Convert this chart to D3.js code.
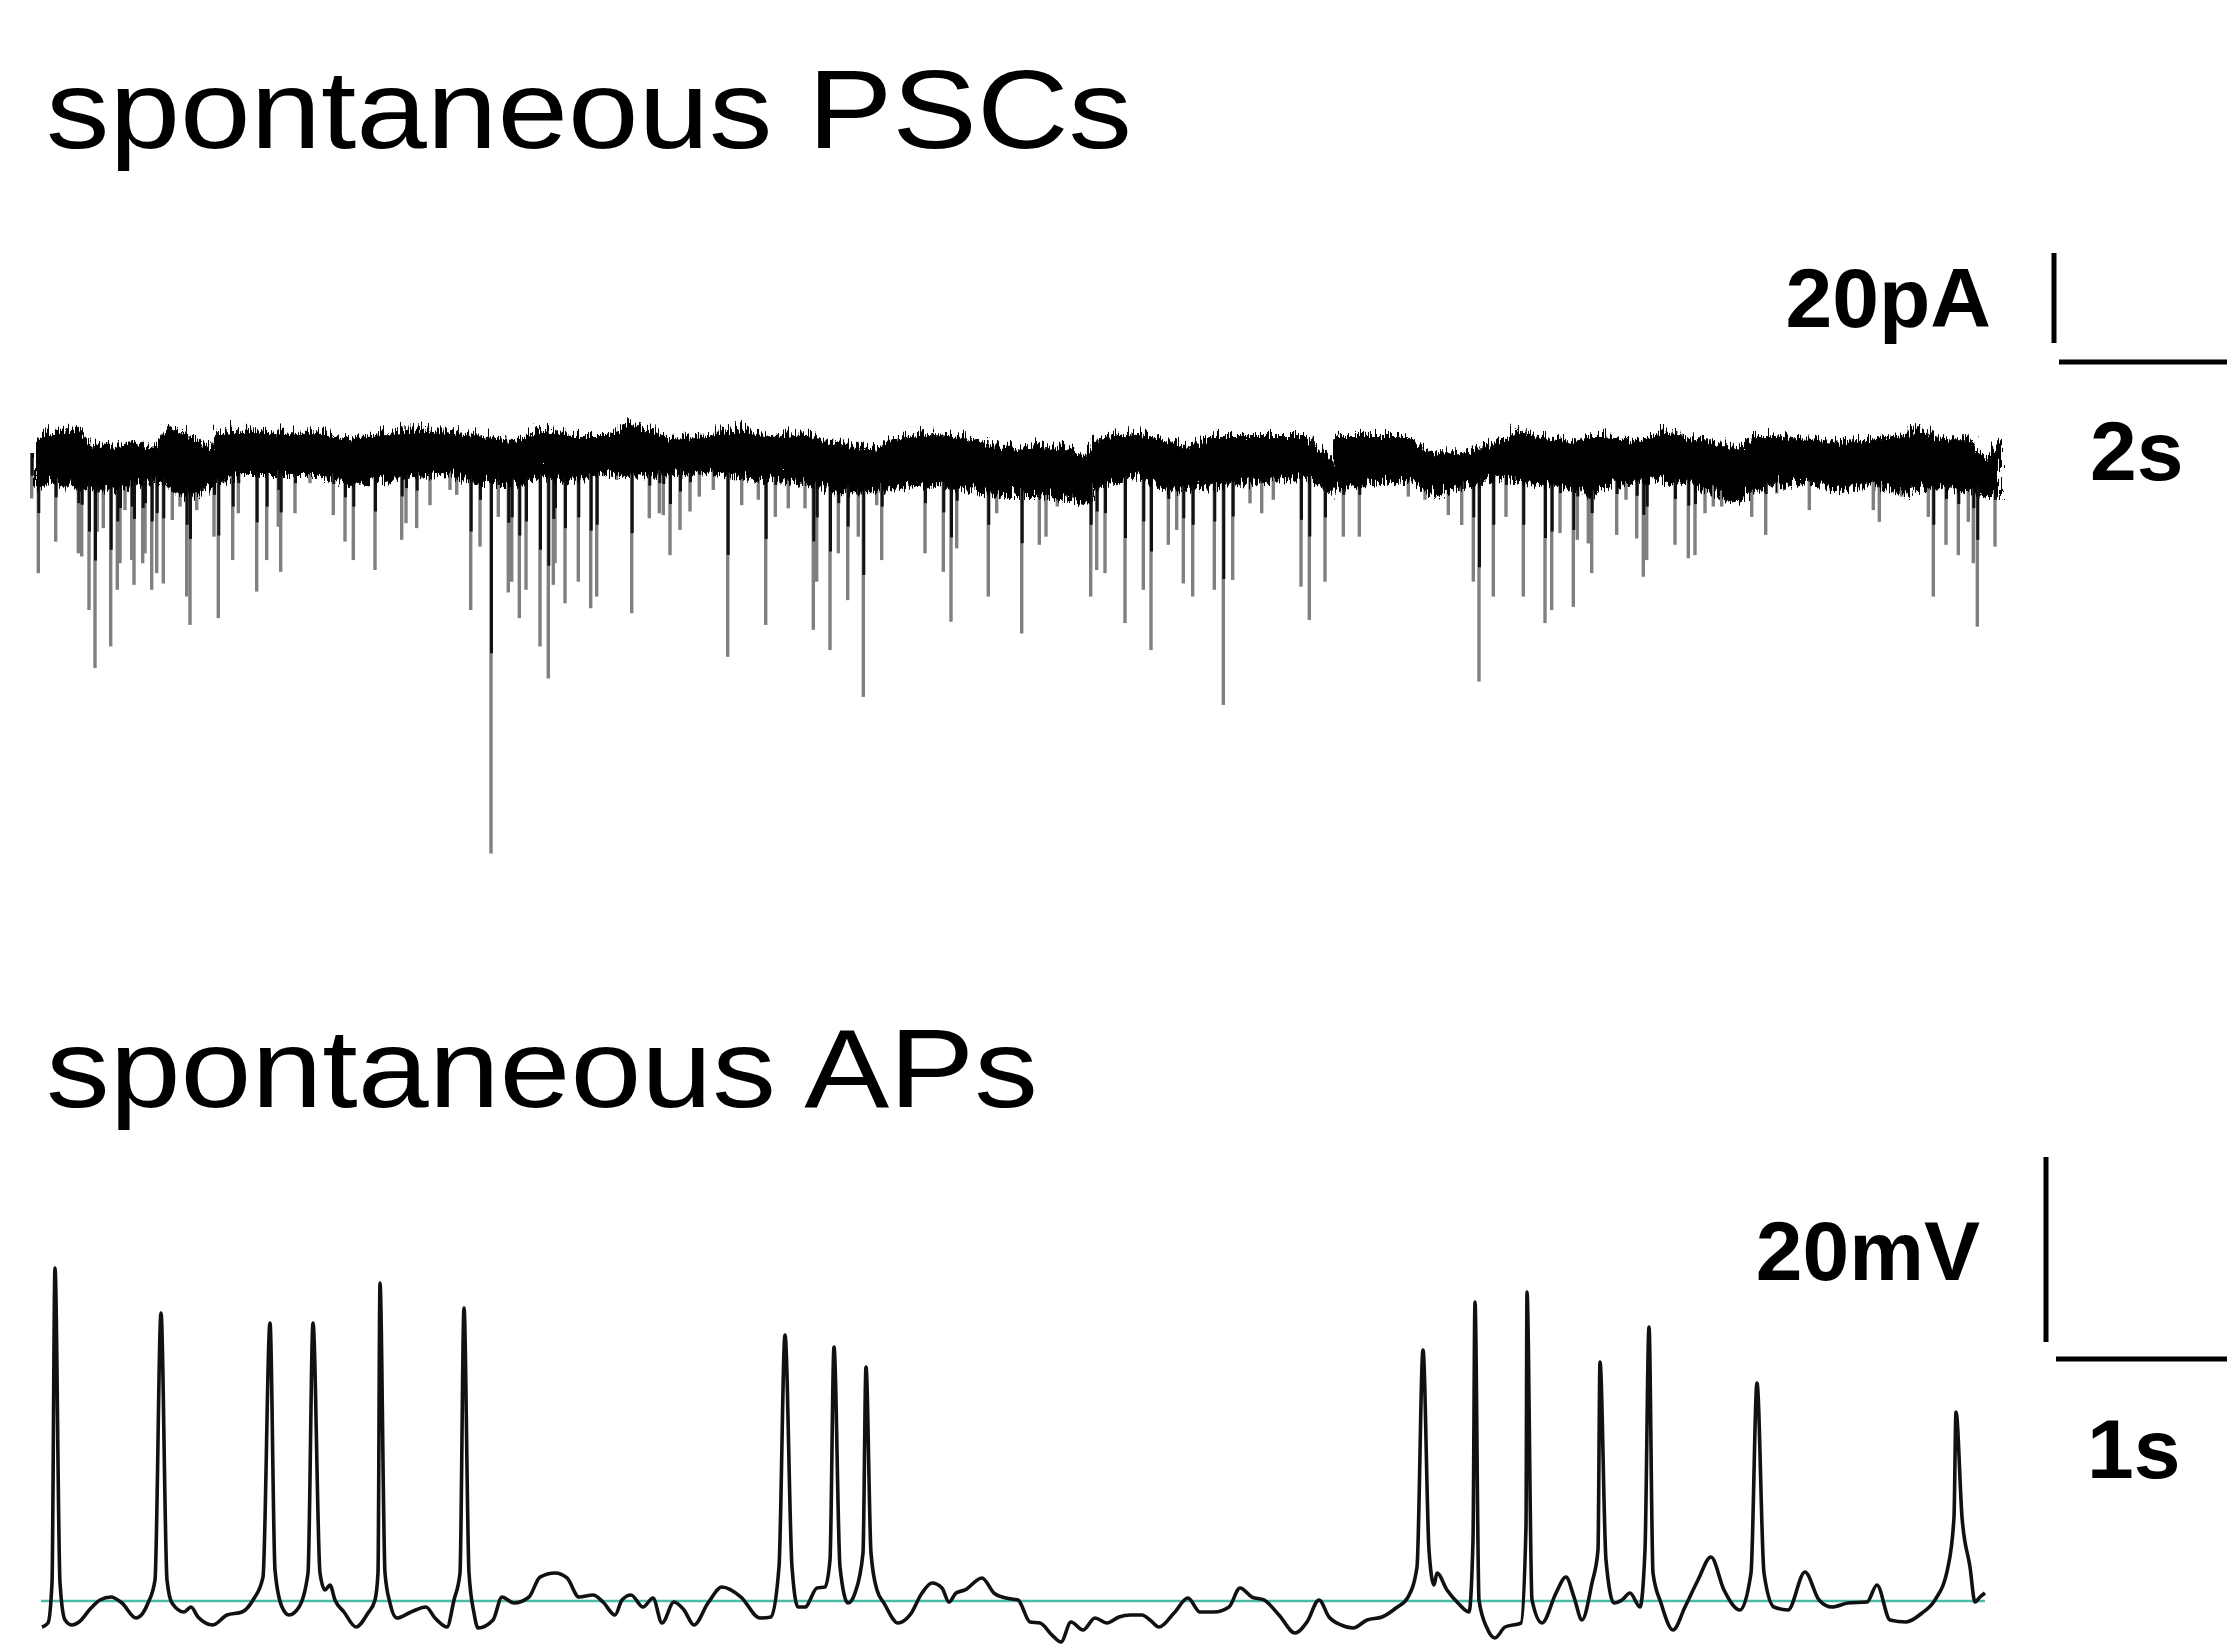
<!DOCTYPE html>
<html>
<head>
<meta charset="utf-8">
<script src="https://cdn.jsdelivr.net/npm/d3@7"></script>
<style>
  body { margin: 0; background: #fff; }
  text { font-family: "Liberation Sans", Arial, sans-serif; }
</style>
</head>
<body>
<svg id="fig"></svg>
<script>
var width = 2227,
    height = 1644;

// ---- spontaneous PSCs (time in s, current in pA) ----
var bandTime = [0, 0.13, 0.40, 0.53, 0.73, 1.00, 1.20, 1.30, 1.47, 1.73, 1.80, 2.13, 2.47, 2.80, 3.13, 3.47, 3.80, 4.13, 4.47, 4.80,
  5.03, 5.37, 5.70, 5.93, 6.37, 6.70, 7.03, 7.37, 7.70, 7.97, 8.37, 8.70, 9.03, 9.37, 9.70, 10.03, 10.37, 10.50, 10.60, 10.70,
  11.03, 11.37, 11.53, 11.77, 12.03, 12.37, 12.70, 12.90, 12.95, 13.00, 13.37, 13.70, 13.97, 14.30, 14.70, 14.83, 15.03, 15.37, 15.53, 15.70,
  16.03, 16.30, 16.53, 16.70, 17.03, 17.20, 17.37, 17.70, 18.03, 18.37, 18.70, 18.80, 19.03, 19.37, 19.50, 19.65];
var bandUpper = [4.0, 5.8, 6.9, 3.3, 2.9, 3.6, 2.2, 7.3, 6.2, 2.2, 5.8, 6.7, 5.8, 6.2, 4.4, 5.8, 6.7, 6.2, 5.1, 3.6,
  6.7, 5.1, 5.1, 8.0, 4.4, 5.1, 6.7, 5.1, 5.8, 3.6, 2.2, 5.1, 5.8, 4.4, 2.2, 2.9, 2.2, 0.0, 4.4, 5.1,
  5.8, 3.6, 2.2, 5.1, 5.1, 5.1, 5.1, 1.3, -0.9, 5.1, 5.1, 5.1, 1.3, 1.3, 4.4, 6.7, 5.1, 3.6, 5.1, 5.1,
  3.6, 6.7, 4.4, 4.4, 2.2, 5.1, 5.1, 4.4, 3.6, 4.4, 5.1, 7.3, 4.4, 4.4, 0.0, 3.6];
var bandLower = [-6.7, -5.3, -6.7, -7.1, -7.6, -6.4, -5.3, -6.0, -8.9, -7.1, -6.0, -3.8, -3.8, -3.8, -6.0, -5.3, -4.4, -3.8, -6.0, -6.0,
  -4.4, -5.3, -3.8, -4.2, -3.8, -3.1, -4.4, -5.3, -6.0, -7.6, -7.6, -6.7, -6.0, -7.6, -8.2, -8.2, -9.8, -10.4, -7.1, -6.0,
  -4.4, -7.6, -7.1, -6.7, -6.0, -5.3, -4.4, -6.4, -8.2, -7.1, -6.0, -5.3, -8.2, -6.7, -4.4, -5.6, -6.0, -6.7, -8.2, -6.7,
  -5.3, -5.3, -6.0, -7.6, -9.8, -7.1, -6.7, -5.3, -7.6, -6.0, -8.2, -7.1, -6.7, -7.6, -8.2, -8.2];

var pscTime = [0.017, 0.083, 0.257, 0.333, 0.483, 0.517, 0.59, 0.65, 0.673, 0.733, 0.807, 0.873, 0.90, 0.95, 1.017, 1.04, 1.127, 1.15, 1.217, 1.267,
  1.333, 1.423, 1.50, 1.567, 1.60, 1.667, 1.84, 1.883, 2.027, 2.083, 2.267, 2.367, 2.483, 2.507, 2.65, 2.80, 3.033, 3.15, 3.233, 3.45,
  3.717, 3.76, 3.867, 4.00, 4.20, 4.267, 4.407, 4.50, 4.61, 4.683, 4.783, 4.817, 4.893, 4.96, 5.10, 5.183, 5.233, 5.25, 5.35, 5.483,
  5.607, 5.667, 5.867, 6.017, 6.193, 6.293, 6.333, 6.40, 6.50, 6.60, 6.693, 6.833, 6.977, 7.117, 7.283, 7.357, 7.453, 7.583, 7.75, 7.833,
  7.867, 8.00, 8.083, 8.177, 8.283, 8.333, 8.467, 8.517, 8.95, 9.133, 9.21, 9.267, 9.583, 9.667, 9.917, 10.093, 10.16, 10.273, 10.607, 10.667,
  10.75, 10.95, 11.133, 11.21, 11.383, 11.467, 11.533, 11.627, 11.843, 11.933, 12.027, 12.20, 12.317, 12.433, 12.71, 12.793, 12.95, 13.133, 13.293, 13.783,
  13.95, 14.183, 14.317, 14.433, 14.49, 14.633, 14.76, 14.933, 15.15, 15.217, 15.30, 15.433, 15.473, 15.583, 15.617, 15.867, 15.96, 16.067, 16.133, 16.167,
  16.45, 16.583, 16.65, 16.75, 16.833, 16.917, 17.067, 17.217, 17.357, 17.467, 17.793, 18.433, 18.493, 18.717, 18.983, 19.033, 19.16, 19.283, 19.383, 19.433,
  19.473, 19.65];
var pscAmp = [-10.1, -26.7, -19.7, -6.0, -22.3, -23.0, -34.9, -47.8, -17.5, -16.7, -43.0, -30.4, -24.5, -12.7, -23.8, -29.3, -24.5, -22.3, -30.4, -26.7,
  -29.0, -14.9, -11.9, -31.9, -38.2, -12.7, -18.6, -36.7, -23.8, -13.4, -30.8, -23.8, -16.4, -26.4, -13.4, -6.7, -13.8, -19.7, -23.8, -26.0,
  -19.3, -15.6, -16.7, -11.6, -8.2, -9.3, -34.9, -20.8, -89.0, -14.2, -31.0, -28.6, -36.7, -30.4, -43.0, -50.1, -29.3, -24.5, -33.4, -28.6,
  -34.5, -31.9, -6.0, -35.6, -14.5, -13.4, -13.8, -22.7, -17.1, -13.0, -9.7, -8.2, -45.3, -11.6, -10.4, -38.2, -14.2, -12.3, -12.3, -39.3,
  -28.6, -43.8, -22.3, -32.7, -18.6, -54.2, -11.6, -23.8, -22.3, -26.4, -37.5, -21.2, -31.9, -13.4, -40.1, -20.4, -18.6, -11.9, -31.9, -26.0,
  -26.7, -37.8, -30.4, -43.8, -20.4, -17.1, -29.0, -31.9, -30.4, -56.0, -28.2, -11.2, -13.4, -10.4, -29.7, -37.1, -28.6, -18.6, -18.6, -9.7,
  -10.4, -13.8, -16.0, -28.6, -50.8, -31.9, -14.2, -31.9, -37.8, -34.9, -17.8, -34.2, -19.3, -20.1, -26.7, -18.2, -10.4, -19.0, -27.5, -23.8,
  -20.4, -23.4, -22.7, -13.4, -11.9, -11.9, -10.1, -14.2, -18.2, -9.0, -12.7, -12.7, -15.3, -9.7, -14.2, -31.9, -20.4, -22.7, -15.3, -24.5,
  -38.6, -20.8];

// ---- spontaneous APs (time in s, membrane potential in mV) ----
var apTime = [0.000, 0.030, 0.050, 0.065, 0.090, 0.115, 0.150, 0.185, 0.245, 0.290, 0.345, 0.400, 0.470, 0.530, 0.565, 0.595, 0.625, 0.650, 0.710, 0.745,
  0.780, 0.855, 0.925, 1.000, 1.055, 1.105, 1.140, 1.165, 1.200, 1.235, 1.285, 1.330, 1.355, 1.390, 1.415, 1.440, 1.465, 1.510, 1.570, 1.630,
  1.665, 1.680, 1.690, 1.715, 1.740, 1.775, 1.845, 1.920, 1.965, 2.025, 2.060, 2.090, 2.110, 2.135, 2.160, 2.180, 2.255, 2.300, 2.360, 2.435,
  2.490, 2.565, 2.625, 2.685, 2.755, 2.805, 2.865, 2.900, 2.945, 3.005, 3.055, 3.100, 3.160, 3.210, 3.260, 3.330, 3.400, 3.495, 3.590, 3.645,
  3.685, 3.715, 3.750, 3.780, 3.815, 3.875, 3.915, 3.940, 3.960, 3.990, 4.030, 4.065, 4.105, 4.120, 4.145, 4.175, 4.210, 4.280, 4.340, 4.400,
  4.450, 4.500, 4.535, 4.570, 4.615, 4.700, 4.760, 4.820, 4.880, 4.940, 4.990, 5.050, 5.095, 5.145, 5.205, 5.265, 5.325, 5.385, 5.440, 5.500,
  5.540, 5.585, 5.660, 5.730, 5.790, 5.860, 5.935, 5.990, 6.050, 6.110, 6.185, 6.265, 6.325, 6.385, 6.435, 6.495, 6.555, 6.625, 6.700, 6.770,
  6.830, 6.875, 6.905, 6.935, 6.960, 6.975, 7.025, 7.080, 7.135, 7.155, 7.165, 7.185, 7.225, 7.265, 7.315, 7.395, 7.420, 7.425, 7.450, 7.500,
  7.570, 7.620, 7.660, 7.700, 7.750, 7.780, 7.790, 7.820, 7.860, 7.900, 7.940, 7.990, 8.015, 8.035, 8.055, 8.095, 8.155, 8.215, 8.280, 8.345,
  8.410, 8.490, 8.545, 8.575, 8.610, 8.660, 8.730, 8.815, 8.885, 8.950, 9.030, 9.125, 9.175, 9.240, 9.320, 9.400, 9.465, 9.530, 9.560, 9.570,
  9.600, 9.640, 9.665, 9.690, 9.715];
var apVm = [-62.81, -62.38, -58.05, -24.00, -58.05, -62.05, -62.59, -62.27, -60.76, -59.89, -59.57, -60.22, -61.84, -60.22, -57.73, -28.86, -57.73, -60.22, -61.19, -60.65,
  -61.73, -62.59, -61.51, -61.19, -59.89, -57.41, -29.95, -56.65, -60.65, -61.51, -60.65, -56.97, -29.95, -56.97, -58.81, -58.27, -59.89, -61.19, -62.81, -61.30,
  -59.89, -56.97, -25.62, -56.97, -60.22, -61.84, -61.19, -60.65, -61.84, -62.81, -59.89, -56.97, -28.32, -56.97, -61.30, -62.92, -62.05, -59.57, -60.22, -59.57,
  -57.41, -56.97, -57.51, -59.57, -59.35, -60.11, -61.51, -59.89, -59.35, -60.65, -59.68, -62.38, -60.11, -60.97, -62.59, -60.22, -58.49, -59.57, -61.84, -61.73,
  -56.32, -31.24, -56.32, -60.65, -60.65, -58.59, -58.49, -55.57, -32.54, -56.32, -60.22, -59.14, -54.81, -34.70, -54.81, -58.81, -60.22, -62.38, -61.51, -59.14,
  -58.05, -58.59, -60.11, -59.14, -58.81, -57.51, -59.14, -59.68, -59.89, -62.27, -62.38, -63.68, -64.43, -62.27, -63.14, -61.84, -62.38, -61.73, -61.51, -61.51,
  -62.05, -62.81, -61.30, -59.68, -61.19, -61.19, -60.65, -58.59, -59.57, -59.89, -61.51, -63.46, -62.27, -59.89, -61.73, -62.59, -62.92, -62.05, -61.73, -60.76,
  -59.57, -56.32, -32.86, -54.49, -58.27, -56.97, -58.81, -60.22, -61.19, -53.41, -27.68, -59.89, -62.92, -64.00, -62.81, -62.38, -52.00, -26.59, -59.89, -62.38,
  -59.14, -57.41, -59.57, -62.05, -58.05, -54.49, -34.16, -55.57, -60.22, -59.89, -59.14, -60.65, -54.49, -30.38, -56.97, -60.22, -63.14, -60.65, -57.73, -55.24,
  -58.81, -60.97, -56.97, -36.43, -56.97, -60.65, -60.97, -56.86, -59.89, -60.65, -60.22, -60.11, -58.27, -62.05, -62.27, -61.30, -59.89, -56.32, -50.92, -39.57,
  -50.92, -56.32, -60.11, -59.57, -59.14];
var restingVm = -60;

var titles = ["spontaneous PSCs", "spontaneous APs"];
var scaleLabels = { psc: ["20pA", "2s"], ap: ["20mV", "1s"] };
var barPA = 20, barPscSec = 2, barMV = 20, barApSec = 1;

var svg = d3.select("#fig")
    .attr("width", width)
    .attr("height", height)
    .style("display", "block");

svg.append("rect").attr("width", width).attr("height", height).attr("fill", "#fff");

// rough recording-noise look for the edges of the PSC baseline band
var defs = svg.append("defs");
var jag = defs.append("filter")
    .attr("id", "jag")
    .attr("x", "-1%").attr("y", "-40%")
    .attr("width", "102%").attr("height", "180%");
jag.append("feTurbulence")
    .attr("type", "turbulence")
    .attr("baseFrequency", "0.4 0.03")
    .attr("numOctaves", 2)
    .attr("seed", 7)
    .attr("result", "noise");
jag.append("feDisplacementMap")
    .attr("in", "SourceGraphic")
    .attr("in2", "noise")
    .attr("scale", 20)
    .attr("xChannelSelector", "R")
    .attr("yChannelSelector", "G");

// titles (original lettering is slightly stretched horizontally)
svg.append("text")
    .attr("x", 46).attr("y", 148)
    .attr("font-size", 112)
    .attr("textLength", 1086)
    .attr("lengthAdjust", "spacingAndGlyphs")
    .text(titles[0]);

svg.append("text")
    .attr("x", 46).attr("y", 1107)
    .attr("font-size", 112)
    .attr("textLength", 992)
    .attr("lengthAdjust", "spacingAndGlyphs")
    .text(titles[1]);

// ---------- PSC trace ----------
var xPsc = d3.scaleLinear().domain([0, 19.65]).range([30, 1995]);
var yPsc = d3.scaleLinear().domain([0, -20]).range([453, 543]);

var psc = svg.append("g").attr("class", "psc");
var events = d3.range(pscTime.length).map(function(i) { return {t: pscTime[i], a: pscAmp[i]}; });

psc.selectAll(".evt")
    .data(events)
  .enter().append("line")
    .attr("class", "evt")
    .attr("x1", function(d) { return xPsc(d.t); })
    .attr("x2", function(d) { return xPsc(d.t); })
    .attr("y1", yPsc(0))
    .attr("y2", function(d) { return yPsc(d.a); })
    .attr("stroke", "#808080")
    .attr("stroke-width", 3.4);

// darker part of each event, close to the baseline
psc.selectAll(".evtDark")
    .data(events)
  .enter().append("line")
    .attr("class", "evtDark")
    .attr("x1", function(d) { return xPsc(d.t) + 0.5; })
    .attr("x2", function(d) { return xPsc(d.t) + 0.5; })
    .attr("y1", yPsc(0))
    .attr("y2", function(d) { return yPsc(d.a * 0.5); })
    .attr("stroke", "#111")
    .attr("stroke-width", 3);

var band = d3.range(bandTime.length).map(function(i) {
    return {t: bandTime[i], hi: bandUpper[i], lo: bandLower[i]};
});
var bandArea = d3.area()
    .x(function(d) { return xPsc(d.t); })
    .y0(function(d) { return yPsc(d.lo); })
    .y1(function(d) { return yPsc(d.hi); });

psc.append("path")
    .datum(band)
    .attr("d", bandArea)
    .attr("fill", "#000")
    .attr("filter", "url(#jag)");

// PSC scale bars
var pscBarX = 2054, pscBarTop = 253;
var pscBarLen = yPsc(-barPA) - yPsc(0);
psc.append("line")
    .attr("x1", pscBarX).attr("x2", pscBarX)
    .attr("y1", pscBarTop).attr("y2", pscBarTop + pscBarLen)
    .attr("stroke", "#000").attr("stroke-width", 5);
psc.append("line")
    .attr("x1", 2059).attr("x2", 2059 + xPsc(barPscSec) - xPsc(0))
    .attr("y1", 362).attr("y2", 362)
    .attr("stroke", "#000").attr("stroke-width", 5);
psc.append("text")
    .attr("x", 1991).attr("y", 327)
    .attr("text-anchor", "end")
    .attr("font-size", 84).attr("font-weight", "bold")
    .text(scaleLabels.psc[0]);
psc.append("text")
    .attr("x", 2090).attr("y", 480)
    .attr("font-size", 84).attr("font-weight", "bold")
    .text(scaleLabels.psc[1]);

// ---------- AP trace ----------
var xAp = d3.scaleLinear().domain([0, 9.715]).range([42, 1985]);
var yAp = d3.scaleLinear().domain([-60, -40]).range([1601, 1416]);

var ap = svg.append("g").attr("class", "ap");

ap.append("line")
    .attr("x1", xAp(0) - 1).attr("x2", xAp(9.715))
    .attr("y1", yAp(restingVm)).attr("y2", yAp(restingVm))
    .attr("stroke", "#4dbba6").attr("stroke-width", 2.4);

var apData = d3.range(apTime.length).map(function(i) { return [apTime[i], apVm[i]]; });
var apLine = d3.line()
    .curve(d3.curveMonotoneX)
    .x(function(d) { return xAp(d[0]); })
    .y(function(d) { return yAp(d[1]); });

ap.append("path")
    .datum(apData)
    .attr("d", apLine)
    .attr("fill", "none")
    .attr("stroke", "#111")
    .attr("stroke-width", 3.6)
    .attr("stroke-linejoin", "round");

var apBarX = 2046, apBarTop = 1157;
ap.append("line")
    .attr("x1", apBarX).attr("x2", apBarX)
    .attr("y1", apBarTop).attr("y2", apBarTop + (yAp(-60) - yAp(-60 + barMV)))
    .attr("stroke", "#000").attr("stroke-width", 5);
ap.append("line")
    .attr("x1", 2056).attr("x2", 2056 + xAp(barApSec) - xAp(0))
    .attr("y1", 1359).attr("y2", 1359)
    .attr("stroke", "#000").attr("stroke-width", 5);
ap.append("text")
    .attr("x", 1980).attr("y", 1280)
    .attr("text-anchor", "end")
    .attr("font-size", 84).attr("font-weight", "bold")
    .text(scaleLabels.ap[0]);
ap.append("text")
    .attr("x", 2087).attr("y", 1478)
    .attr("font-size", 84).attr("font-weight", "bold")
    .text(scaleLabels.ap[1]);
</script>
</body>
</html>
